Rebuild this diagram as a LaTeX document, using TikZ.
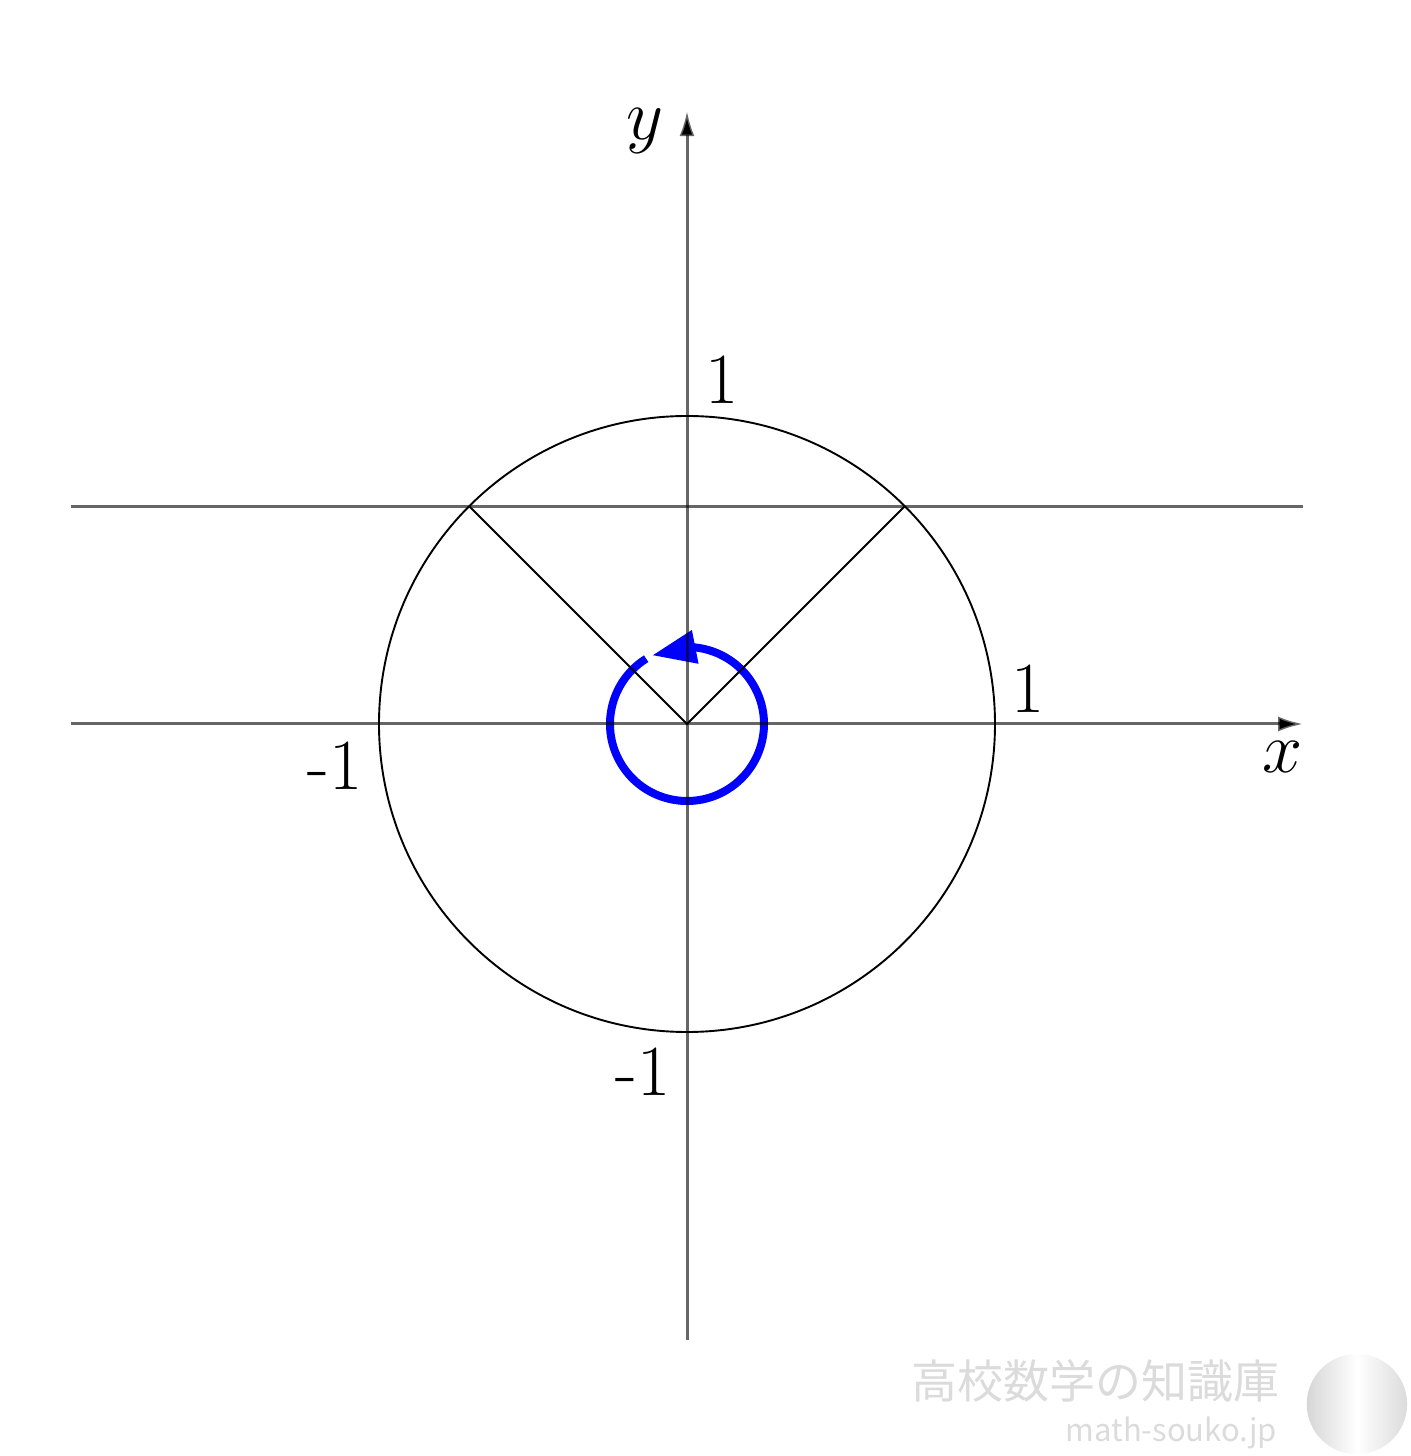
\RequirePackage{fix-cm}
\documentclass[tikz,border=0pt]{standalone}
\usepackage{fontspec}
\newfontfamily\cjk{Noto Sans CJK JP}
\usetikzlibrary{arrows.meta,bending}
\begin{document}
\begin{tikzpicture}[x=308pt,y=308pt,
  axisline/.style={draw=black, draw opacity=0.6, line width=3pt},
  thinline/.style={draw=black, line width=1.9pt},
  lbl/.style={font=\fontsize{72}{86}\selectfont, inner sep=0pt},
  wm/.style={text=black!14, inner sep=0pt}]
\useasboundingbox (-2.2305,-2.3766) rectangle (2.3474,2.3506);
\coordinate (O) at (0,0);
\coordinate (xl) at (-2,0); \coordinate (xr) at (2,0);
\coordinate (yb) at (0,-2); \coordinate (yt) at (0,1.99);
\coordinate (hl) at (-2,0.7071); \coordinate (hr) at (2,0.7071);
\coordinate (P) at (45:1); \coordinate (Q) at (135:1);
\coordinate (S) at (122:0.25);
% blue rotation arrow
\draw[blue, line width=8pt, -{Triangle[length=44pt,width=32pt,flex]}]
  (S) arc[start angle=122, end angle=477, radius=0.25];
% unit circle and radii
\draw[thinline] (O) circle (1);
\draw[thinline] (Q) -- (O) -- (P);
% horizontal line y = 1/sqrt2
\draw[axisline] (hl) -- (hr);
% axes
\draw[axisline, -{Latex[length=25pt,width=15pt]}] (xl) -- (xr);
\draw[axisline, -{Latex[length=25pt,width=15pt]}] (yb) -- (yt);
% labels
\node[lbl] (lx) at (1.932,-0.107) {$x$};
\node[lbl] (ly) at (-0.136,1.925) {$y$};
\node[lbl] (l1t) at (0.114,1.117) {1};
\node[lbl] (l1r) at (1.107,0.114) {1};
\node[lbl] (lm1l) at (-1.143,-0.136) {-1};
\node[lbl] (lm1b) at (-0.143,-1.130) {-1};
% watermark
\node[wm, font=\cjk\fontsize{46}{50}\selectfont] (wj) at (1.325,-2.133) {高校数学の知識庫};
\node[wm, font=\cjk\fontsize{31}{36}\selectfont, anchor=base east] (we) at (1.916,-2.331) {math-souko.jp};
\shade[left color=black!16, right color=black!14, middle color=white] (2.175,-2.208) circle (0.163);
\end{tikzpicture}
\end{document}
